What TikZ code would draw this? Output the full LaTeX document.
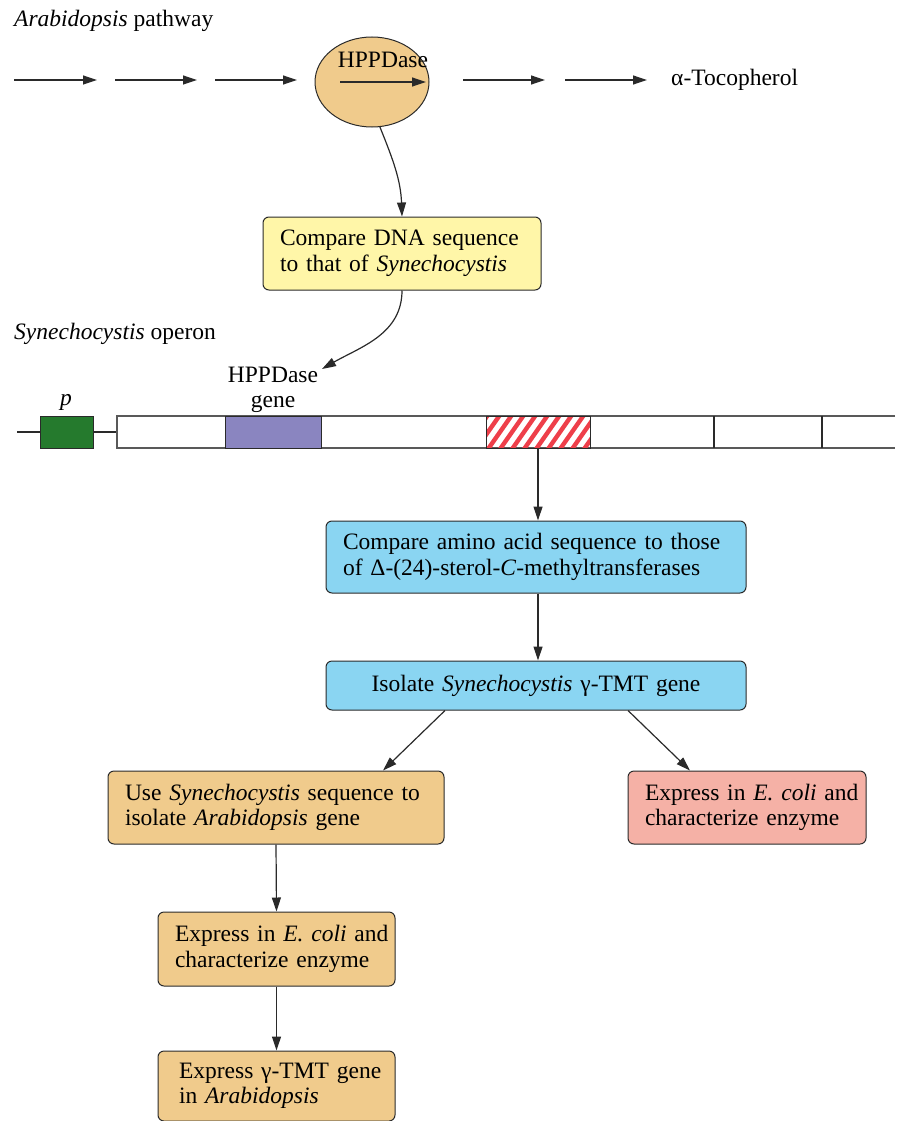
\documentclass[tikz,border=0pt]{standalone}
\usepackage{fontspec}
\setmainfont{Liberation Serif}
\usetikzlibrary{arrows.meta,shapes.geometric}
\definecolor{orangec}{HTML}{F0CB8C}
\definecolor{yellowc}{HTML}{FFF6A8}
\definecolor{bluec}{HTML}{8AD5F2}
\definecolor{pinkc}{HTML}{F5B1A6}
\definecolor{greenc}{HTML}{257A2D}
\definecolor{purplec}{HTML}{8A85C0}
\definecolor{hatchc}{HTML}{EE3F4A}
\definecolor{linec}{HTML}{2A2A2A}
\newcommand{\fs}{\fontsize{23.5}{25.5}\selectfont}
\hbadness=10000 \hfuzz=200pt
\tikzset{
  box/.style={draw=linec, line width=1pt, rounded corners=6pt, inner xsep=17pt, inner ysep=0pt, align=left, font=\fs},
  arr/.style={-{Triangle[length=14pt,width=9pt]}, line width=1.2pt, draw=linec},
  lbl/.style={font=\fs, inner sep=0pt},
}
\begin{document}
\begin{tikzpicture}[x=1pt,y=-1pt]
\useasboundingbox (0,0) rectangle (903,1121);
% top row
\node[lbl, anchor=west] (arabl) at (14,21) {\textit{Arabidopsis} pathway};
\coordinate (p1a) at (14,80); \coordinate (p1b) at (97,80);
\coordinate (p2a) at (115,80); \coordinate (p2b) at (197,80);
\coordinate (p3a) at (215,80); \coordinate (p3b) at (297,80);
\coordinate (p4a) at (463,80); \coordinate (p4b) at (545,80);
\coordinate (p5a) at (565,80); \coordinate (p5b) at (647,80);
\draw[arr] (p1a) -- (p1b);
\draw[arr] (p2a) -- (p2b);
\draw[arr] (p3a) -- (p3b);
\draw[arr] (p4a) -- (p4b);
\draw[arr] (p5a) -- (p5b);
\node[ellipse, draw=linec, line width=1pt, fill=orangec, minimum width=114pt, minimum height=90pt] (hpp) at (372,82) {};
\node[lbl] (hpptxt) at (383,60) {HPPDase};
\coordinate (ia) at (340,82); \coordinate (ib) at (426,82);
\draw[arr] (ia) -- (ib);
\node[lbl, anchor=west] (toco) at (671,80) {α-Tocopherol};
% yellow box
\node[box, fill=yellowc, text width=244pt, minimum height=73pt] (cmp) at (402,253.5) {\mbox{Compare DNA sequence}\\\mbox{to that of \textit{Synechocystis}}};
\draw[arr] (hpp.-80) to[out=-68,in=92] (cmp.north);
% operon
\node[lbl, anchor=west] (opl) at (14,334) {\textit{Synechocystis} operon};
\node[lbl, align=center] (hlab) at (273,390) {HPPDase\\gene};
\node[lbl] (plab) at (66,402) {\textit{p}};
\coordinate (hend) at (322,369);
\draw[arr] (cmp.south) to[out=-90,in=30] (hend);
\draw[line width=1.3pt, draw=linec] (17,432) -- (117,432);
\node[draw=linec, line width=1pt, fill=greenc, inner sep=0pt, minimum width=53pt, minimum height=32pt] (prom) at (66.5,432) {};
\draw[line width=1.3pt, draw=black!65] (895,416) -- (117,416) -- (117,448) -- (895,448);
\node[draw=linec, line width=1pt, fill=purplec, inner sep=0pt, minimum width=96pt, minimum height=32pt] (hgene) at (273,432) {};
\begin{scope}
\clip (486,416) rectangle (590,448);
\foreach \i in {-30,-18,...,600} { \draw[hatchc, line width=4.4pt] (\i,452) -- ++(28,-40); }
\end{scope}
\node[draw=linec, line width=1pt, inner sep=0pt, minimum width=104pt, minimum height=32pt] (hatch) at (538,432) {};
\draw[line width=1.2pt, draw=linec] (714,416) -- (714,448);
\draw[line width=1.2pt, draw=linec] (822,416) -- (822,448);
% blue boxes
\node[box, fill=bluec, text width=386pt, minimum height=72pt] (b1) at (536,557) {\mbox{Compare amino acid sequence to those}\\\mbox{of Δ-(24)-sterol-\textit{C}-methyltransferases}};
\draw[arr] (hatch.south) -- (hatch.south |- b1.north);
\node[box, fill=bluec, text width=386pt, minimum height=49pt, align=center] (b2) at (536,685.5) {Isolate \textit{Synechocystis} γ-TMT gene};
\draw[arr] (hatch.south |- b1.south) -- (hatch.south |- b2.north);
% lower boxes
\node[box, fill=orangec, text width=302pt, minimum height=73pt] (oL) at (276,807.5) {\mbox{Use \textit{Synechocystis} sequence to}\\\mbox{isolate \textit{Arabidopsis} gene}};
\node[box, fill=pinkc, text width=204pt, minimum height=73pt] (pk) at (747,807.5) {\mbox{Express in \textit{E. coli} and}\\\mbox{characterize enzyme}};
\draw[arr] ([xshift=-91pt]b2.south) -- ([xshift=107pt]oL.north);
\draw[arr] ([xshift=92pt]b2.south) -- ([xshift=-57pt]pk.north);
\node[box, fill=orangec, text width=203pt, minimum height=74pt] (o2) at (276.5,949) {\mbox{Express in \textit{E. coli} and}\\\mbox{characterize enzyme}};
\draw[arr] (oL.south) -- (o2.north);
\node[box, fill=orangec, inner xsep=21pt, text width=195pt, minimum height=70pt] (o3) at (276.5,1086) {\mbox{Express γ-TMT gene}\\\mbox{in \textit{Arabidopsis}}};
\draw[arr] (o2.south) -- (o3.north);
\end{tikzpicture}
\end{document}
